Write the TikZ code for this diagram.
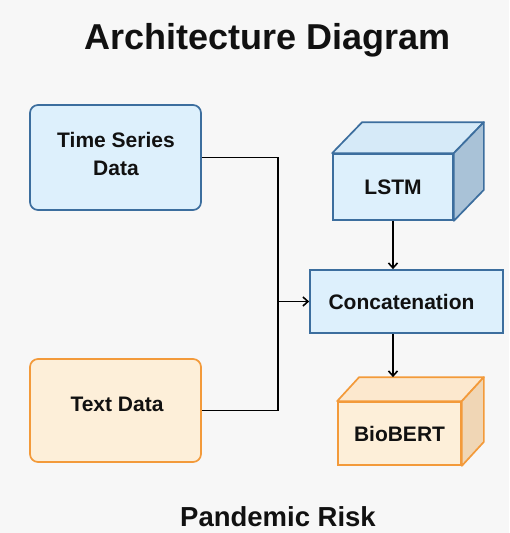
\documentclass[tikz,border=0pt]{standalone}
\usepackage{fontspec}
\setmainfont{Liberation Sans}
\usetikzlibrary{arrows.meta,calc}
\definecolor{bgc}{HTML}{F7F7F7}
\definecolor{bluefill}{HTML}{DDF0FC}
\definecolor{bluetop}{HTML}{D6EAF8}
\definecolor{blueside}{HTML}{A9C2D7}
\definecolor{blueline}{HTML}{3C6E9E}
\definecolor{orfill}{HTML}{FDEFD9}
\definecolor{ortop}{HTML}{FCE8CE}
\definecolor{orside}{HTML}{F0D6B5}
\definecolor{orline}{HTML}{F39A3A}
\definecolor{txt}{HTML}{111111}
\tikzset{
  lbl/.style={font=\bfseries\fontsize{21}{28}\selectfont, text=txt, align=center},
  inbox/.style={draw, line width=1.7pt, rounded corners=8pt, inner sep=0pt},
  bluebox/.style={inbox, draw=blueline, fill=bluefill},
  orbox/.style={inbox, draw=orline, fill=orfill},
  flatbox/.style={draw=blueline, fill=bluefill, line width=1.7pt, inner sep=0pt},
  cubeface/.style={lbl, inner sep=0pt, line width=1.7pt},
  conn/.style={draw=black, line width=1.8pt},
  arr/.style={conn, -{Straight Barb[length=5pt,width=9pt,line width=1.6pt]}}
}
\begin{document}
\begin{tikzpicture}[x=1pt,y=-1pt]
\fill[bgc] (0,0) rectangle (509,533);
\useasboundingbox (0,0) rectangle (509,533);

\node[font=\bfseries\fontsize{36}{40}\selectfont, text=txt] (title) at (268,40) {Architecture Diagram};

\node[bluebox, minimum width=171pt, minimum height=105pt] (ts) at (115.5,157.5) {};
\node[lbl] (tstext) at (116,154) {Time Series\\Data};
\node[orbox, minimum width=171pt, minimum height=103pt] (td) at (115.5,410.5) {};
\node[lbl] (tdtext) at (117,404) {Text Data};

% LSTM cube
\node[cubeface, minimum width=120pt, minimum height=66pt] (lstm) at (393,187) {};
\filldraw[blueline, fill=bluetop, line width=1.7pt, line join=round]
  (lstm.north west) -- ++(30,-31) -- ($(lstm.north east)+(30,-31)$) -- (lstm.north east) -- cycle;
\filldraw[blueline, fill=blueside, line width=1.7pt, line join=round]
  (lstm.north east) -- ++(30,-31) -- ($(lstm.south east)+(30,-31)$) -- (lstm.south east) -- cycle;
\node[cubeface, draw=blueline, fill=bluefill, minimum width=120pt, minimum height=66pt] (lstmf) at (lstm) {LSTM};

\node[flatbox, minimum width=193pt, minimum height=63pt] (cc) at (406.5,301.5) {};
\node[lbl] (cctext) at (401.5,301.5) {Concatenation};

% BioBERT cube
\node[cubeface, minimum width=123pt, minimum height=63pt] (bb) at (399.5,433.5) {};
\filldraw[orline, fill=ortop, line width=1.7pt, line join=round]
  (bb.north west) -- ++(22,-24) -- ($(bb.north east)+(22,-24)$) -- (bb.north east) -- cycle;
\filldraw[orline, fill=orside, line width=1.7pt, line join=round]
  (bb.north east) -- ++(22,-24) -- ($(bb.south east)+(22,-24)$) -- (bb.south east) -- cycle;
\node[cubeface, draw=orline, fill=orfill, minimum width=123pt, minimum height=63pt] (bbf) at (bb) {BioBERT};
\coordinate (bbback) at ($(bb.north west)+(22,-24)$);

% connectors
\coordinate (junc) at ($(ts.east)+(76,0)$);
\draw[conn] (ts.east) -- (junc) |- (td.east);
\draw[arr] (junc |- cc.west) -- (cc.west);
\draw[arr] (lstmf.south) -- (lstmf.south |- cc.north);
\draw[arr] (lstmf.south |- cc.south) -- (lstmf.south |- bbback);

\node[font=\bfseries\fontsize{27.5}{32}\selectfont, text=txt] (pr) at (278,517) {Pandemic Risk};
\end{tikzpicture}
\end{document}
